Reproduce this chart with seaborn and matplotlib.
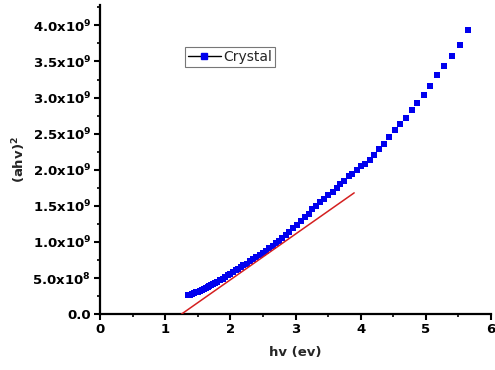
import matplotlib
matplotlib.use("Agg")
import matplotlib.pyplot as plt
import pandas as pd
import seaborn as sns
from matplotlib.lines import Line2D
from matplotlib.ticker import MultipleLocator

# measured points, hv (eV) vs (ahv)^2 in units of 1e9
hv = [1.35, 1.38, 1.41, 1.44, 1.47, 1.50, 1.53, 1.56, 1.59, 1.62, 1.65, 1.68,
      1.71, 1.74, 1.77, 1.80, 1.84, 1.88, 1.92, 1.96, 2.00, 2.04, 2.08, 2.12,
      2.16, 2.20, 2.25, 2.30, 2.35, 2.40, 2.45, 2.50, 2.55, 2.60, 2.65, 2.70,
      2.75, 2.80, 2.85, 2.90, 2.96, 3.02, 3.08, 3.14, 3.20, 3.26, 3.32, 3.38,
      3.44, 3.50, 3.57, 3.63, 3.69, 3.75, 3.82, 3.87, 3.94, 4.00, 4.07, 4.14,
      4.20, 4.28, 4.36, 4.43, 4.52, 4.60, 4.69, 4.79, 4.86, 4.97, 5.07, 5.17,
      5.28, 5.40, 5.52, 5.64]
ahv2 = [0.26, 0.27, 0.28, 0.29, 0.30, 0.31, 0.32, 0.335, 0.35, 0.36, 0.375, 0.39,
        0.405, 0.42, 0.435, 0.45, 0.47, 0.49, 0.515, 0.54, 0.56, 0.58, 0.605, 0.63,
        0.65, 0.675, 0.70, 0.73, 0.76, 0.79, 0.82, 0.85, 0.88, 0.915, 0.95, 0.985,
        1.02, 1.06, 1.10, 1.14, 1.19, 1.24, 1.29, 1.34, 1.39, 1.45, 1.50, 1.55,
        1.60, 1.65, 1.69, 1.75, 1.80, 1.85, 1.91, 1.94, 1.99, 2.05, 2.08, 2.14,
        2.20, 2.29, 2.36, 2.45, 2.55, 2.63, 2.72, 2.83, 2.92, 3.04, 3.16, 3.31,
        3.44, 3.58, 3.73, 3.93]

# linear fit (Tauc extrapolation)
fit_x = [1.25, 3.90]
fit_y = [0.0, 1.68]

ytick_vals = [0.0, 0.5, 1.0, 1.5, 2.0, 2.5, 3.0, 3.5, 4.0]
ytick_labels = ["0.0", r"5.0x10$^{\mathbf{8}}$", r"1.0x10$^{\mathbf{9}}$",
                r"1.5x10$^{\mathbf{9}}$", r"2.0x10$^{\mathbf{9}}$",
                r"2.5x10$^{\mathbf{9}}$", r"3.0x10$^{\mathbf{9}}$",
                r"3.5x10$^{\mathbf{9}}$", r"4.0x10$^{\mathbf{9}}$"]
xtick_vals = [0, 1, 2, 3, 4, 5, 6]

sns.set_theme(style="ticks")
plt.rcParams['font.family'] = ['DejaVu Sans']
plt.rcParams['mathtext.fontset'] = 'dejavusans'

df = pd.DataFrame({"hv": hv, "y": [v * 1e9 for v in ahv2]})
fit = pd.DataFrame({"hv": fit_x, "y": [v * 1e9 for v in fit_y]})

fig = plt.figure(figsize=(4.95, 3.70), dpi=100)
ax = fig.add_axes([0.202, 0.151, 0.79, 0.835])

sns.scatterplot(data=df, x="hv", y="y", marker="s", s=20, color="#0000ee",
                edgecolor="#0000ee", linewidth=0, ax=ax, zorder=3)
sns.lineplot(data=fit, x="hv", y="y", color="#d42020", linewidth=1.1, ax=ax, zorder=4)

ax.set_xlim(0, 6)
ax.set_ylim(0, 4.28e9)
ax.set_xticks(xtick_vals)
ax.set_xticklabels([str(v) for v in xtick_vals])
ax.set_yticks([v * 1e9 for v in ytick_vals])
ax.set_yticklabels(ytick_labels)
ax.xaxis.set_minor_locator(MultipleLocator(0.5))
ax.yaxis.set_minor_locator(MultipleLocator(0.25e9))

for side in ["top", "right"]:
    ax.spines[side].set_visible(False)
for side in ["left", "bottom"]:
    ax.spines[side].set_linewidth(1.6)
    ax.spines[side].set_color("black")

ax.tick_params(which="major", length=4.5, width=1.5, color="black", pad=2,
               labelsize=9.5, labelcolor="black")
ax.tick_params(which="minor", length=2.5, width=1.2, color="black")
for lab in ax.get_xticklabels() + ax.get_yticklabels():
    lab.set_fontweight("bold")

ax.set_xlabel("hv (ev)", fontsize=9.5, fontweight="bold", labelpad=7)
ax.set_ylabel(r"(ahv)$^{\mathbf{2}}$", fontsize=9.5, fontweight="bold", labelpad=3)

handle = Line2D([0], [0], color="black", linewidth=1.0, marker="s", markersize=4.5,
                markerfacecolor="#0000ee", markeredgecolor="#0000ee")
leg = ax.legend([handle], ["Crystal"], loc="upper left",
                bbox_to_anchor=(0.217, 0.864), fontsize=10, frameon=True,
                fancybox=False, borderpad=0.2, handlelength=2.4,
                handletextpad=0.2, borderaxespad=0)
leg.get_frame().set_edgecolor("#555555")
leg.get_frame().set_linewidth(0.8)

fig.savefig("out.png", dpi=100)
